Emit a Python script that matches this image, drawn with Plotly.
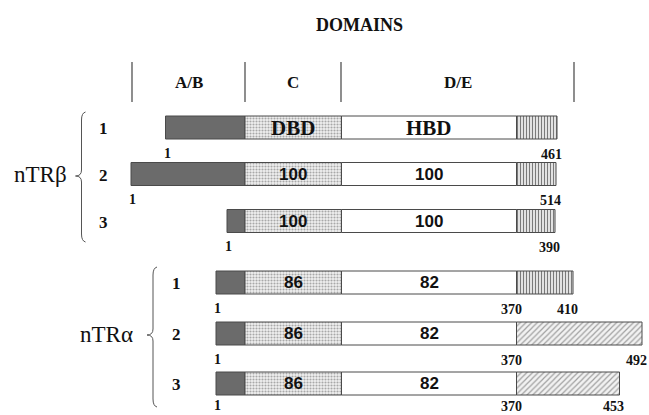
import plotly.graph_objects as go

# ---- data (schematic diagram units) ----
rows = ["nTRβ 1", "nTRβ 2", "nTRβ 3", "nTRα 1", "nTRα 2", "nTRα 3"]
row_num = ["1", "2", "3", "1", "2", "3"]
row_y = [127.5, 174, 221, 282.5, 333.5, 383.5]
ab_start = [165.5, 131, 227, 216, 216, 216]
dbd_start = [245, 245, 245, 245, 245, 245]
hbd_start = [341.5, 341.5, 341.5, 341.5, 341.5, 341.5]
tail_start = [516.5, 516.5, 516.5, 516.5, 516.5, 516.5]
tail_end = [557, 556, 555, 573, 642, 619.5]
tail_kind = ["stripe", "stripe", "stripe", "stripe", "hatch", "hatch"]
dbd_text = ["DBD", "100", "100", "86", "86", "86"]
hbd_text = ["HBD", "100", "100", "82", "82", "82"]
start_label = ["1", "1", "1", "1", "1", "1"]
mid_label = ["", "", "", "370", "370", "370"]
end_label = ["461", "514", "390", "410", "492", "453"]
domain_names = ["A/B", "C", "D/E"]
domain_bounds = [132, 245, 341, 574]

BAR_H = 23
SERIF = "Liberation Serif, Times New Roman, serif"
SANS = "Liberation Sans, Arial, sans-serif"
OUT = "#4a4a4a"

fig = go.Figure()

def seg(base, end, ys, color, pattern=None):
    fig.add_trace(go.Bar(
        orientation="h", y=ys, base=base,
        x=[e - b for b, e in zip(base, end)],
        width=BAR_H,
        marker=dict(color=color, line=dict(color=OUT, width=1),
                    pattern=pattern or {}),
        hoverinfo="skip", showlegend=False))

seg(ab_start, dbd_start, row_y, "#6b6b6b")
seg(dbd_start, hbd_start, row_y, "#e6e6e6",
    dict(shape=".", size=3, solidity=0.4, fgcolor="#a8a8a8", bgcolor="#f0f0f0", fillmode="replace"))
seg(hbd_start, tail_start, row_y, "#ffffff")
stripe_idx = [i for i, k in enumerate(tail_kind) if k == "stripe"]
hatch_idx = [i for i, k in enumerate(tail_kind) if k == "hatch"]
seg([tail_start[i] for i in stripe_idx], [tail_end[i] for i in stripe_idx],
    [row_y[i] for i in stripe_idx], "#dddddd",
    dict(shape="|", size=3, solidity=0.35, fgcolor="#7a7a7a", bgcolor="#e2e2e2", fillmode="replace"))
seg([tail_start[i] for i in hatch_idx], [tail_end[i] for i in hatch_idx],
    [row_y[i] for i in hatch_idx], "#eeeeee",
    dict(shape="/", size=4, solidity=0.3, fgcolor="#a0a0a0", bgcolor="#f2f2f2", fillmode="replace"))

ann = []
def t(x, y, s, size, font=SERIF, bold=True, xanchor="center"):
    ann.append(dict(x=x, y=y, xref="x", yref="y", text=(f"<b>{s}</b>" if bold else s),
                    showarrow=False, xanchor=xanchor, yanchor="middle",
                    font=dict(family=font, size=size, color="#111111")))

t(359, 25, "DOMAINS", 18)
for i, name in enumerate(domain_names):
    t((domain_bounds[i] + domain_bounds[i + 1]) / 2, 82, name, 17)

for i in range(len(rows)):
    y = row_y[i]
    numx = 103 if i < 3 else 176
    t(numx, y + 1, row_num[i], 17)
    alpha_txt = dbd_text[i].isalpha()
    dsz = 21 if alpha_txt else 17
    dfont = SERIF if alpha_txt else SANS
    t((dbd_start[i] + hbd_start[i]) / 2, y, dbd_text[i], dsz, dfont)
    t((hbd_start[i] + tail_start[i]) / 2, y, hbd_text[i], dsz, dfont)
    ly = min(y + 25.5, 405.5)
    t(ab_start[i] + 1.5, ly, start_label[i], 14)
    if mid_label[i]:
        t(tail_start[i] - 5, ly + 1, mid_label[i], 14)
    t(tail_end[i] - 6, ly + 1, end_label[i], 14)

t(40, 174, "nTRβ", 23, bold=False)
t(106, 334, "nTRα", 23, bold=False)

shapes = []
for xb in domain_bounds:
    shapes.append(dict(type="line", xref="x", yref="y", x0=xb, x1=xb, y0=62, y1=102,
                       line=dict(color="#444444", width=1.2)))

def brace(x, y0, y1, ym, tip):
    return (f"M {x+4},{y0} Q {x},{y0+1} {x},{y0+8} L {x},{ym-6} "
            f"Q {x},{ym} {x-tip},{ym} Q {x},{ym} {x},{ym+6} "
            f"L {x},{y1-8} Q {x},{y1-1} {x+4},{y1}")

shapes.append(dict(type="path", xref="x", yref="y", path=brace(81.5, 112, 242, 176, 6),
                   line=dict(color="#555555", width=1)))
shapes.append(dict(type="path", xref="x", yref="y", path=brace(153, 267, 407, 335, 6),
                   line=dict(color="#555555", width=1)))

fig.update_layout(
    width=649, height=415, margin=dict(l=0, r=0, t=0, b=0),
    paper_bgcolor="white", plot_bgcolor="white", barmode="overlay",
    xaxis=dict(range=[0, 649], visible=False, fixedrange=True),
    yaxis=dict(range=[415, 0], visible=False, fixedrange=True),
    annotations=ann, shapes=shapes,
)
fig.write_html("out.html", config={"displayModeBar": False},
               post_script="document.body.style.margin='0';document.body.style.overflow='hidden';")
